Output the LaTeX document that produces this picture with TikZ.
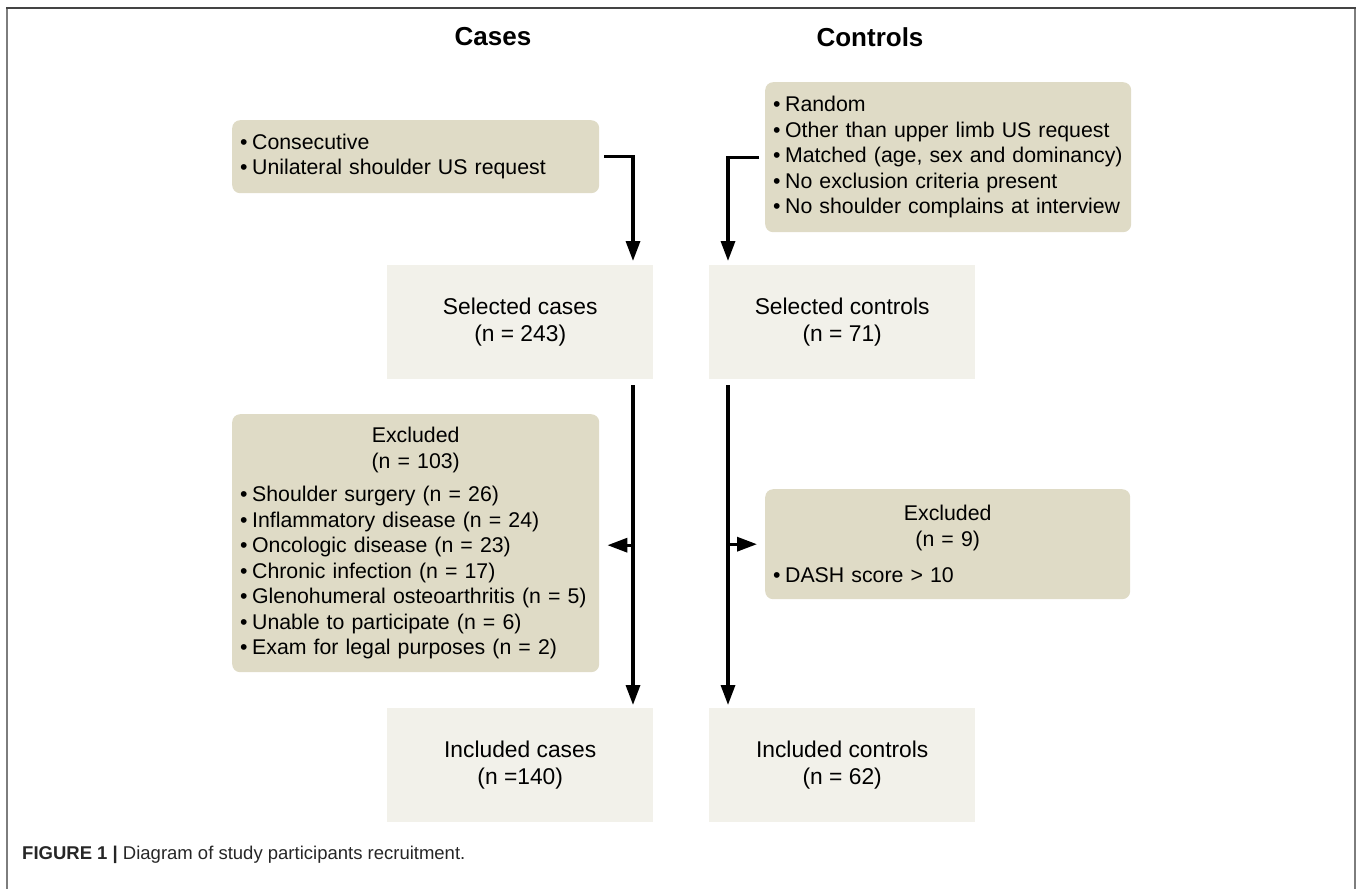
\documentclass[tikz,border=0pt]{standalone}
\usepackage{fontspec}
\setmainfont{Liberation Sans}
\usetikzlibrary{arrows.meta}
\definecolor{tanfill}{RGB}{223,219,198}
\definecolor{lightfill}{RGB}{242,241,234}
\definecolor{framedark}{RGB}{68,68,68}
\definecolor{frameside}{RGB}{125,125,125}
\newcommand{\bl}{\textbullet\hspace{4.5pt}}
\begin{document}
\begin{tikzpicture}[x=1pt,y=-1pt,
  body/.style={font=\fontsize{21.3}{25.5}\selectfont},
  tanbox/.style={body, fill=tanfill, rounded corners=8pt, anchor=north west, inner xsep=8pt, inner ysep=0pt, align=left},
  lightbox/.style={font=\fontsize{22.8}{26}\selectfont, fill=lightfill, anchor=north west, align=center, inner sep=0pt, minimum width=266pt, minimum height=114pt},
  arr/.style={line width=3.3pt, -{Triangle[length=20pt,width=14pt]}},
  coltitle/.style={font=\fontsize{26}{30}\selectfont\bfseries}]
\useasboundingbox (0,0) rectangle (1358,889);
% frame
\draw[frameside, line width=2pt] (7,889) -- (7,8);
\draw[frameside, line width=2pt] (1355,8) -- (1355,889);
\draw[framedark, line width=2pt] (6,8) -- (1356,8);
% titles
\node[coltitle] (tcases) at (493,37) {Cases};
\node[coltitle] (tctrl) at (870,37) {Controls};
% top boxes
\node[tanbox, text width=351pt, minimum height=73pt] (cin) at (232,120)
  {\bl Consecutive\\\bl Unilateral shoulder US request};
\node[tanbox, text width=350pt, minimum height=150pt] (kin) at (765,82)
  {\bl Random\\\bl Other than upper limb US request\\\bl Matched (age, sex and dominancy)\\\bl No exclusion criteria present\\\bl No shoulder complains at interview};
% selected
\node[lightbox] (selc) at (387,265) {Selected cases\\[1pt](n = 243)};
\node[lightbox] (selk) at (709,265) {Selected controls\\[1pt](n = 71)};
% excluded
\node[tanbox, text width=351pt, minimum height=258pt] (exc) at (232,414)
  {\makebox[351pt]{Excluded}\\\makebox[351pt]{(n = 103)}\\[8pt]
   \bl Shoulder surgery (n = 26)\\\bl Inflammatory disease (n = 24)\\\bl Oncologic disease (n = 23)\\\bl Chronic infection (n = 17)\\\bl Glenohumeral osteoarthritis (n = 5)\\\bl Unable to participate (n = 6)\\\bl Exam for legal purposes (n = 2)};
\node[tanbox, text width=349pt, minimum height=110pt] (exk) at (765,489)
  {\makebox[349pt]{Excluded}\\\makebox[349pt]{(n = 9)}\\[11pt]\bl DASH score {>} 10};
% included
\node[lightbox] (incc) at (387,708) {Included cases\\[1pt](n =140)};
\node[lightbox] (inck) at (709,708) {Included controls\\[1pt](n = 62)};
% caption
\node[anchor=base west, inner sep=0pt, text=black!85, font=\fontsize{18.5}{22}\selectfont] (cap) at (22,859)
  {\textbf{FIGURE 1 |} Diagram of study participants recruitment.};
% columns
\coordinate (cx) at (633,0);
\coordinate (kx) at (728,0);
% arrows
\draw[arr] ([xshift=5pt]cin.east) -| ([yshift=4pt]cx |- selc.north);
\draw[arr] ([xshift=-6pt]kin.west) -| ([yshift=4pt]kx |- selk.north);
\draw[arr] ([yshift=-6pt]cx |- selc.south) -- ([yshift=3pt]cx |- incc.north);
\draw[arr] ([yshift=-6pt]kx |- selk.south) -- ([yshift=3pt]kx |- inck.north);
\draw[arr] ([yshift=-2pt]cx |- exc.east) -- ([xshift=8pt,yshift=-2pt]exc.east);
\draw[arr] (kx |- exk.west) -- ([xshift=-8pt]exk.west);
\end{tikzpicture}
\end{document}
